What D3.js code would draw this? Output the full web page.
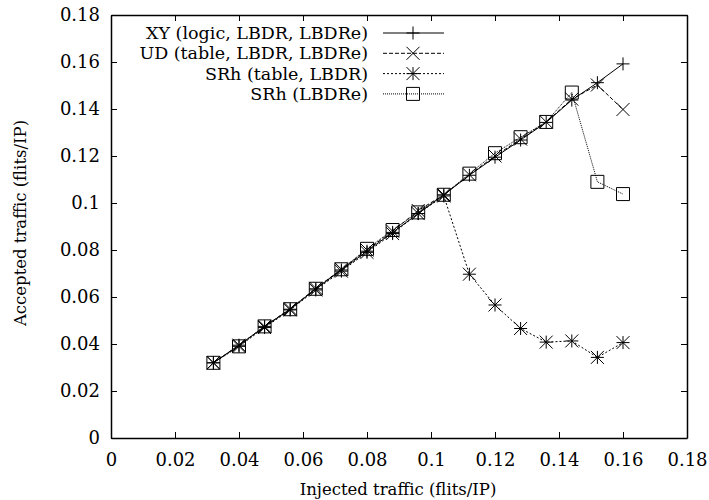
<!DOCTYPE html>
<html>
<head>
<meta charset="utf-8">
<script src="https://cdn.jsdelivr.net/npm/d3@7"></script>
<style>
body { margin: 0; background: #fff; }
</style>
</head>
<body>
<script>
// injected traffic (x) shared by all series
let injected = [0.032, 0.040, 0.048, 0.056, 0.064, 0.072, 0.080, 0.088, 0.096, 0.104, 0.112, 0.120, 0.128, 0.136, 0.144, 0.152, 0.160];

let xyLogic = [0.032, 0.0395, 0.0475, 0.0548, 0.0635, 0.0715, 0.0795, 0.0875, 0.0955, 0.1035, 0.1118, 0.1195, 0.1268, 0.1343, 0.1438, 0.1512, 0.1592];
let udTable = [0.032, 0.0395, 0.0475, 0.055, 0.0637, 0.0718, 0.080, 0.088, 0.0968, 0.1035, 0.112, 0.120, 0.1272, 0.1345, 0.1442, 0.1502, 0.1398];
let srhTable = [0.032, 0.039, 0.047, 0.0545, 0.063, 0.071, 0.079, 0.087, 0.0955, 0.103, 0.0697, 0.0566, 0.0466, 0.0408, 0.0413, 0.0343, 0.0406];
let srhLbdre = [0.032, 0.039, 0.0475, 0.0548, 0.0635, 0.0718, 0.0805, 0.0885, 0.096, 0.1035, 0.1125, 0.1212, 0.128, 0.1345, 0.147, 0.109, 0.1038];

let seriesNames = ["XY (logic, LBDR, LBDRe)", "UD (table, LBDR, LBDRe)", "SRh (table, LBDR)", "SRh (LBDRe)"];
let seriesValues = [xyLogic, udTable, srhTable, srhLbdre];
let dashes = [null, "4,2", "2,2", "1,1"];
let symbols = ["plus", "cross", "star", "box"];

let xTicks = [0, 0.02, 0.04, 0.06, 0.08, 0.1, 0.12, 0.14, 0.16, 0.18];
let yTicks = [0, 0.02, 0.04, 0.06, 0.08, 0.1, 0.12, 0.14, 0.16, 0.18];

let svgWidth = 709;
let svgHeight = 500;
let margin = {top: 15, right: 22, bottom: 62, left: 111};
let width = svgWidth - margin.left - margin.right;
let height = svgHeight - margin.top - margin.bottom;

let svg = d3.select("body")
    .append("svg")
    .attr("width", svgWidth)
    .attr("height", svgHeight)
    .style("font-family", "DejaVu Serif");

let chartGroup = svg.append("g")
    .attr("transform", `translate(${margin.left}, ${margin.top})`);

let xScale = d3.scaleLinear().domain([0, 0.18]).range([0, width]);
let yScale = d3.scaleLinear().domain([0, 0.18]).range([height, 0]);

let fmt = d => d === 0 ? "0" : String(+d.toFixed(2));

// axes, gnuplot style: inward ticks on all four sides
let bottomAxis = d3.axisBottom(xScale).tickValues(xTicks).tickSizeInner(-6).tickSizeOuter(0).tickPadding(15).tickFormat(fmt);
let leftAxis = d3.axisLeft(yScale).tickValues(yTicks).tickSizeInner(-6).tickSizeOuter(0).tickPadding(11).tickFormat(fmt);
let topAxis = d3.axisTop(xScale).tickValues(xTicks).tickSizeInner(-6).tickSizeOuter(0).tickFormat("");
let rightAxis = d3.axisRight(yScale).tickValues(yTicks).tickSizeInner(-6).tickSizeOuter(0).tickFormat("");

function styleAxis(g) {
    g.attr("font-family", null).attr("font-size", 18);
    g.select(".domain").attr("stroke", "#000").attr("stroke-width", 1.5);
    g.selectAll(".tick line").attr("stroke", "#000");
}

chartGroup.append("g").attr("transform", `translate(0, ${height})`).call(bottomAxis).call(styleAxis);
chartGroup.append("g").call(leftAxis).call(styleAxis);
chartGroup.append("g").call(topAxis).call(styleAxis);
chartGroup.append("g").attr("transform", `translate(${width}, 0)`).call(rightAxis).call(styleAxis);

// point symbols
function symbolPath(type, s) {
    let h = s / 2;
    if (type === "plus") return `M${-h},0H${h}M0,${-h}V${h}`;
    if (type === "cross") return `M${-h},${-h}L${h},${h}M${-h},${h}L${h},${-h}`;
    if (type === "star") return `M${-h},0H${h}M0,${-h}V${h}M${-h},${-h}L${h},${h}M${-h},${h}L${h},${-h}`;
    return `M${-h},${-h}H${h}V${h}H${-h}Z`;
}

let line = d3.line().x(d => xScale(d[0])).y(d => yScale(d[1]));

seriesValues.forEach(function(vals, i) {
    let pts = injected.map((x, j) => [x, vals[j]]);
    chartGroup.append("path")
        .datum(pts)
        .attr("d", line)
        .attr("fill", "none")
        .attr("stroke", "#000")
        .attr("stroke-width", 1)
        .attr("stroke-dasharray", dashes[i]);
    chartGroup.selectAll(".pt" + i)
        .data(pts)
        .enter()
        .append("path")
        .attr("transform", d => `translate(${xScale(d[0])}, ${yScale(d[1])})`)
        .attr("d", symbolPath(symbols[i], 13))
        .attr("fill", "none")
        .attr("stroke", "#000")
        .attr("stroke-width", 1);
});

// legend
let legend = chartGroup.append("g").attr("transform", "translate(272, 18)");
seriesNames.forEach(function(name, i) {
    let row = legend.append("g").attr("transform", `translate(0, ${i * 20.3})`);
    row.append("text")
        .attr("x", -15)
        .attr("y", 6)
        .attr("text-anchor", "end")
        .attr("font-size", 17.5)
        .text(name);
    row.append("line")
        .attr("x1", 0).attr("x2", 61)
        .attr("stroke", "#000")
        .attr("stroke-dasharray", dashes[i]);
    row.append("path")
        .attr("transform", "translate(30, 0)")
        .attr("d", symbolPath(symbols[i], 13))
        .attr("fill", "none")
        .attr("stroke", "#000");
});

// axis titles
svg.append("text")
    .attr("x", 398)
    .attr("y", 495)
    .attr("text-anchor", "middle")
    .attr("font-size", 16.5)
    .text("Injected traffic (flits/IP)");

svg.append("text")
    .attr("transform", "rotate(-90)")
    .attr("x", -223)
    .attr("y", 26)
    .attr("text-anchor", "middle")
    .attr("font-size", 16.5)
    .text("Accepted traffic (flits/IP)");
</script>
</body>
</html>
